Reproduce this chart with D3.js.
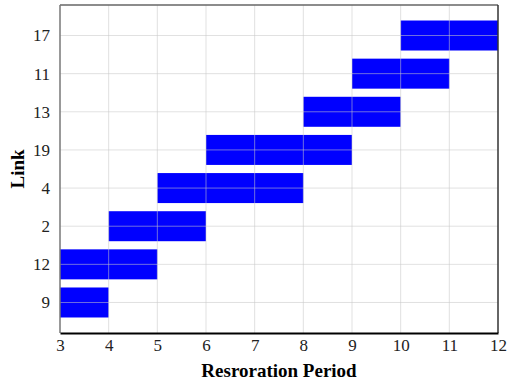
<!DOCTYPE html>
<html>
<head>
<meta charset="utf-8">
<script src="https://cdn.jsdelivr.net/npm/d3@7"></script>
<style>
  body { margin: 0; background: #fff; }
</style>
</head>
<body>
<div id="chart"></div>
<script>
// links, bottom to top
var links = ["9", "12", "2", "4", "19", "13", "11", "17"];
var starts = [3, 3, 4, 5, 6, 8, 9, 10];
var ends = [4, 5, 6, 8, 9, 10, 11, 12];
var xTicks = [3, 4, 5, 6, 7, 8, 9, 10, 11, 12];

var width = 507, height = 385;
var margin = {left: 60, right: 9, top: 5, bottom: 52};
var serif = "'Liberation Serif', 'Times New Roman', serif";

var svg = d3.select("#chart").append("svg")
    .attr("width", width)
    .attr("height", height)
    .attr("font-family", serif);

var x = d3.scaleLinear()
    .domain([3, 12])
    .range([margin.left, width - margin.right]);

var y = d3.scalePoint()
    .domain(links)
    .range([height - margin.bottom, margin.top])
    .padding(0.8);

var barH = 30;

// bars
svg.append("g").selectAll("rect")
    .data(links)
    .enter().append("rect")
    .attr("x", function (d, i) { return x(starts[i]); })
    .attr("width", function (d, i) { return x(ends[i]) - x(starts[i]); })
    .attr("y", function (d) { return y(d) - barH / 2; })
    .attr("height", barH)
    .attr("fill", "#0000ff");

// grid on top of bars
var grid = svg.append("g")
    .attr("stroke", "rgba(200,200,200,0.55)")
    .attr("stroke-width", 1);
grid.selectAll(".gx")
    .data(xTicks.slice(1, -1))
    .enter().append("line")
    .attr("x1", function (d) { return x(d); })
    .attr("x2", function (d) { return x(d); })
    .attr("y1", margin.top)
    .attr("y2", height - margin.bottom);
grid.selectAll(".gy")
    .data(links)
    .enter().append("line")
    .attr("x1", margin.left)
    .attr("x2", width - margin.right)
    .attr("y1", function (d) { return y(d); })
    .attr("y2", function (d) { return y(d); });

// frame
svg.append("line")
    .attr("x1", margin.left).attr("x2", width - margin.right)
    .attr("y1", margin.top).attr("y2", margin.top)
    .attr("stroke", "#666").attr("stroke-width", 1.5);
svg.append("line")
    .attr("x1", margin.left).attr("x2", margin.left)
    .attr("y1", margin.top).attr("y2", height - margin.bottom)
    .attr("stroke", "#777").attr("stroke-width", 1.5);
svg.append("line")
    .attr("x1", width - margin.right).attr("x2", width - margin.right)
    .attr("y1", margin.top).attr("y2", height - margin.bottom)
    .attr("stroke", "#333").attr("stroke-width", 1.5);

// axes
var xAxis = svg.append("g")
    .attr("transform", "translate(0," + (height - margin.bottom) + ")")
    .call(d3.axisBottom(x).tickValues(xTicks).tickSize(0).tickPadding(6))
    .attr("font-family", serif)
    .attr("font-size", 17);
xAxis.select(".domain").attr("stroke", "#000").attr("stroke-width", 2);
xAxis.selectAll("text").attr("fill", "#222");

var yAxis = svg.append("g")
    .attr("transform", "translate(" + margin.left + ",0)")
    .call(d3.axisLeft(y).tickSize(0).tickPadding(10))
    .attr("font-family", serif)
    .attr("font-size", 17);
yAxis.select(".domain").remove();
yAxis.selectAll("text").attr("fill", "#222");

// titles
svg.append("text")
    .attr("x", (margin.left + width - margin.right) / 2)
    .attr("y", 377)
    .attr("text-anchor", "middle")
    .attr("font-size", 19)
    .attr("font-weight", "bold")
    .text("Resroration Period");

svg.append("text")
    .attr("transform", "translate(24," + ((margin.top + height - margin.bottom) / 2) + ") rotate(-90)")
    .attr("text-anchor", "middle")
    .attr("font-size", 19)
    .attr("font-weight", "bold")
    .text("Link");
</script>
</body>
</html>
